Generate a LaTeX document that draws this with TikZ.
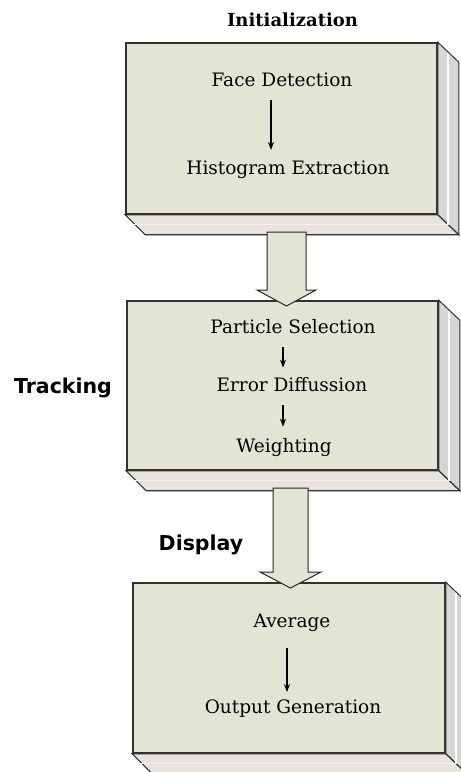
\documentclass[tikz,border=0pt]{standalone}
\usepackage{fontspec}
\setmainfont{DejaVu Serif}
\newfontfamily\phasefont{DejaVu Sans}
\usepackage{tikz}
\usetikzlibrary{arrows.meta, positioning}

\definecolor{boxfill}{RGB}{228,228,213}
\definecolor{sidefill}{RGB}{214,214,212}
\definecolor{slabfill}{RGB}{230,228,220}
\definecolor{edgegray}{RGB}{50,50,50}

\begin{document}
\begin{tikzpicture}[x=1pt, y=-1pt,
        stage/.style={draw=edgegray, line width=1.6pt, fill=boxfill, inner sep=0pt},
        side/.style={draw=edgegray, line width=1pt, fill=sidefill},
        slab/.style={draw=edgegray, line width=1.2pt, fill=slabfill},
        bigarrow/.style={draw=black!85, line width=1pt, fill=boxfill, line join=miter},
        item/.style={font=\fontsize{18.5}{22}\selectfont, inner sep=1pt},
        phase/.style={font=\phasefont\bfseries\fontsize{20.5}{24}\selectfont},
        title/.style={font=\bfseries\fontsize{18}{21}\selectfont},
        edge/.style={-{Stealth[length=8pt, width=6pt]}, line width=1.1pt}
    ]
        \useasboundingbox (0,0) rectangle (461,772);

        % Stages
        \node[stage, minimum width=311, minimum height=171] (init) at (281.5,128.5) {};
        \node[stage, minimum width=311, minimum height=169] (track) at (282.5,385.5) {};
        \node[stage, minimum width=312, minimum height=170] (disp) at (289,668) {};

        % Depth of the boxes
        \foreach \b in {init, track, disp} {
            \draw[side] (\b.north east) -- ([shift={(21,20)}]\b.north east)
                -- ([shift={(21,20)}]\b.south east) -- (\b.south east) -- cycle;
            \draw[slab] (\b.south west) -- ([shift={(20,20)}]\b.south west)
                -- ([shift={(21,20)}]\b.south east) -- (\b.south east) -- cycle;
            \draw[white!93!red, line width=1pt] ([shift={(9,10)}]\b.south west) -- ([shift={(11,10)}]\b.south east);
            \draw[white, line width=1.5pt] ([shift={(10,11)}]\b.north east) -- ([shift={(10,10)}]\b.south east);
        }

        % Phase labels
        \node[title] (tinit) at (292.5,20) {Initialization};
        \node[phase] (ttrack) at (63,388) {Tracking};
        \node[phase] (tdisp) at (201,545) {Display};

        % Initialization
        \node[item] (face) at (282,80) {Face Detection};
        \node[item] (hist) at (288,170) {Histogram Extraction};
        \draw[edge, shorten <=12pt, shorten >=10pt] ([xshift=-11pt]face.south) -- ([xshift=-17pt]hist.north);

        % Tracking
        \node[item] (part) at (293,327) {Particle Selection};
        \node[item] (err) at (292,385) {Error Diffussion};
        \node[item] (weight) at (284,448) {Weighting};
        \draw[edge, shorten <=12pt, shorten >=9pt] ([xshift=-10pt]part.south) -- ([xshift=-9pt]err.north);
        \draw[edge, shorten <=12pt, shorten >=11pt] ([xshift=-9pt]err.south) -- ([xshift=-1pt]weight.north);

        % Display
        \node[item] (avg) at (292,623) {Average};
        \node[item] (out) at (293,709) {Output Generation};
        \draw[edge, shorten <=15pt, shorten >=7pt] ([xshift=-5pt]avg.south) -- ([xshift=-6pt]out.north);

        % Arrows between stages
        \draw[bigarrow] (267,232) -- (267,290) -- (257,290) -- (286.5,306)
            -- (316,290) -- (306,290) -- (306,232) -- cycle;
        \draw[bigarrow] (273,488) -- (273,572) -- (260,572) -- (290.5,588)
            -- (321,572) -- (308,572) -- (308,488) -- cycle;

    \end{tikzpicture}
\end{document}
